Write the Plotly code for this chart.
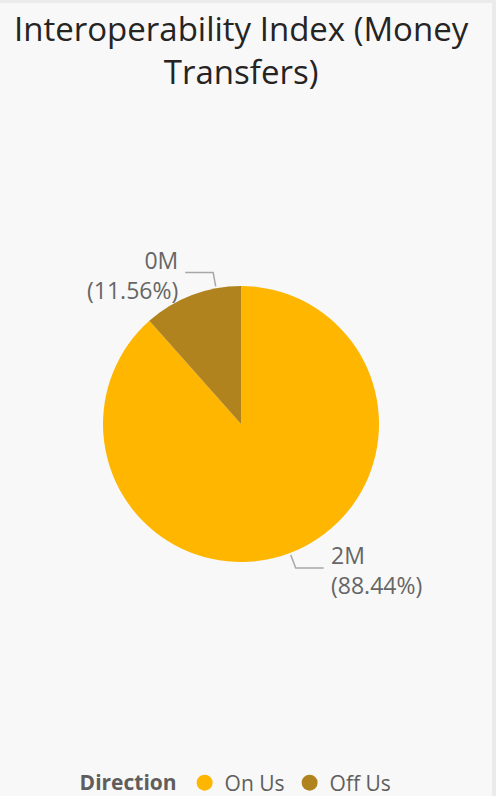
import math
import plotly.graph_objects as go

# ---- data ----
labels = ["On Us", "Off Us"]
values_m = [1.53, 0.20]                 # money transfers, millions
colors = ["#FFB600", "#B0831F"]
title_text = "Interoperability Index (Money<br>Transfers)"
legend_title = "Direction"

W, H = 496, 796
cx, cy, R = 241, 424, 138
label_nudge = {"Off Us": 10.4, "On Us": 0.0}   # angular nudge of leader (style)
LABEL_FONT = "Segoe UI, Open Sans, sans-serif"

fig = go.Figure()
fig.add_trace(go.Pie(
    labels=labels, values=values_m, sort=False, direction="counterclockwise",
    rotation=0, marker=dict(colors=colors, line=dict(width=0)),
    textinfo="none", hoverinfo="label+value+percent", showlegend=False,
    domain=dict(x=[(cx - R) / W, (cx + R) / W], y=[1 - (cy + R) / H, 1 - (cy - R) / H]),
))

# angles measured clockwise from 12 o'clock, mirroring plotly's ccw layout:
# first slice occupies [0, v1] clockwise, following slices run ccw from 12 o'clock
total = sum(values_m)
mids = []
acc = 0.0
for i, v in enumerate(values_m):
    span = v / total * 360
    if i == 0:
        mids.append(span / 2)
    else:
        mids.append(-(acc + span / 2))
        acc += span

annotations = []
for lab, v, mid in zip(labels, values_m, mids):
    frac = v / total
    a = math.radians(mid + label_nudge[lab])
    sx, sy = math.sin(a), -math.cos(a)
    p1 = (cx + (R + 2) * sx, cy + (R + 2) * sy)
    p2 = (cx + (R + 16) * sx, cy + (R + 16) * sy)
    side = -1 if sx < 0 else 1
    p3 = (p2[0] + side * 28, p2[1])
    fig.add_trace(go.Scatter(x=[p1[0], p2[0], p3[0]], y=[p1[1], p2[1], p3[1]],
                             mode="lines", line=dict(color="#A8A8A8", width=1.5),
                             hoverinfo="skip", showlegend=False))
    txt = f"{v:.0f}M<br>({frac * 100:.2f}%)"
    annotations.append(dict(
        x=p3[0] + side * 5, y=p3[1] + 2, xref="x", yref="y", text=txt, showarrow=False,
        xanchor="left" if side > 0 else "right", yanchor="middle",
        align="left" if side > 0 else "right",
        font=dict(family=LABEL_FONT, size=23, color="#666666"),
    ))

annotations.append(dict(
    x=0.487, y=50, xref="paper", yref="y", text=title_text, showarrow=False,
    xanchor="center", yanchor="middle", align="center",
    font=dict(family="Open Sans, sans-serif", size=33, color="#252423"),
))

for lab, col in zip(labels, colors):
    fig.add_trace(go.Scatter(x=[None], y=[None], mode="markers", name=lab,
                             marker=dict(symbol="circle", size=20, color=col),
                             showlegend=True))

fig.update_layout(
    width=W, height=H, margin=dict(l=0, r=0, t=0, b=0, autoexpand=False),
    paper_bgcolor="#F8F8F8", plot_bgcolor="rgba(0,0,0,0)",
    xaxis=dict(range=[0, W], visible=False, domain=[0, 1], fixedrange=True),
    yaxis=dict(range=[H, 0], visible=False, domain=[0, 1], fixedrange=True),
    legend=dict(orientation="h", x=0.478, xanchor="center", y=13 / H, yanchor="middle",
                title=dict(text=f"<b>{legend_title}</b>", side="left",
                           font=dict(family=LABEL_FONT, size=21, color="#605E5C")),
                font=dict(family=LABEL_FONT, size=21, color="#605E5C"),
                itemsizing="trace", itemwidth=30, tracegroupgap=0,
                bgcolor="rgba(0,0,0,0)"),
    annotations=annotations,
    shapes=[
        dict(type="rect", xref="paper", yref="paper", x0=0, x1=1, y0=1 - 3 / H, y1=1,
             fillcolor="#EBEBEB", line=dict(width=0), layer="below"),
        dict(type="rect", xref="paper", yref="paper", x0=1 - 4 / W, x1=1, y0=0, y1=1,
             fillcolor="#EBEBEB", line=dict(width=0), layer="below"),
    ],
    showlegend=True,
)

fig.write_html("out.html", config={"displayModeBar": False},
               post_script="document.body.style.margin='0';"
                           "document.body.style.background='#F8F8F8';")
